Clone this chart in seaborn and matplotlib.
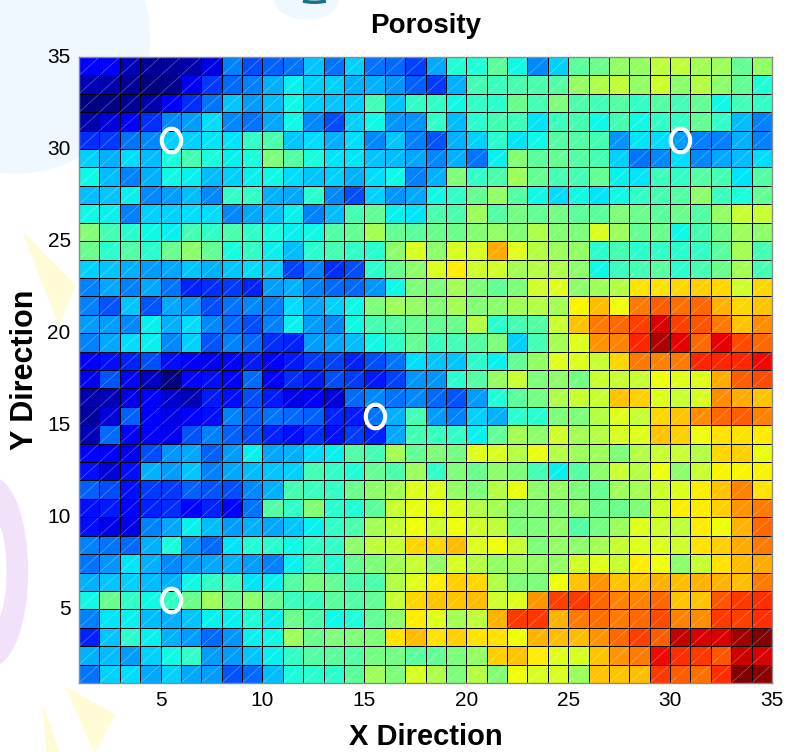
import numpy as np
import pandas as pd
import matplotlib.pyplot as plt
import seaborn as sns
from matplotlib.patches import Ellipse, Polygon, Arc
from matplotlib.path import Path
from matplotlib.transforms import Affine2D

# porosity map, read off the picture on the jet scale (0 = dark blue, 100 = dark red)
# first row is the top of the map (y = 34), last row is y = 1; columns x = 1..34
porosity_rows = [
    [11, 12, 5, 2, 3, 4, 9, 25, 20, 22, 24, 32, 24, 33, 24, 23, 19, 29, 39, 39, 46, 37, 26, 33, 46, 48, 53, 53, 58, 58, 55, 54, 47, 53],
    [5, 4, 2, 0, 1, 10, 18, 23, 25, 30, 36, 33, 33, 30, 30, 27, 22, 18, 30, 43, 42, 44, 44, 45, 53, 56, 58, 53, 60, 52, 57, 52, 47, 39],
    [0, 1, 2, 4, 12, 17, 24, 32, 28, 31, 37, 33, 32, 33, 43, 32, 41, 41, 37, 41, 40, 48, 43, 50, 44, 43, 45, 41, 45, 43, 47, 37, 43, 41],
    [4, 8, 12, 17, 26, 28, 34, 26, 24, 29, 37, 26, 20, 33, 37, 27, 27, 41, 31, 40, 43, 42, 35, 42, 43, 37, 43, 37, 41, 41, 47, 41, 31, 25],
    [17, 18, 24, 26, 33, 33, 35, 35, 41, 44, 32, 34, 30, 34, 26, 32, 25, 21, 30, 33, 40, 35, 37, 45, 45, 43, 27, 35, 34, 28, 25, 25, 30, 25],
    [33, 30, 34, 31, 38, 43, 38, 36, 38, 50, 45, 38, 35, 35, 32, 31, 29, 26, 30, 24, 36, 51, 46, 47, 45, 43, 33, 24, 26, 34, 26, 29, 31, 34],
    [37, 31, 25, 30, 37, 36, 31, 33, 36, 37, 34, 32, 33, 30, 34, 37, 25, 30, 50, 41, 44, 54, 47, 43, 43, 47, 36, 35, 42, 41, 45, 43, 35, 45],
    [31, 32, 36, 26, 28, 31, 26, 41, 41, 30, 29, 40, 26, 20, 33, 27, 29, 37, 41, 47, 53, 45, 37, 34, 37, 35, 37, 41, 43, 45, 52, 42, 38, 47],
    [37, 36, 25, 33, 33, 34, 34, 26, 29, 32, 36, 25, 31, 43, 47, 36, 35, 44, 44, 54, 45, 49, 47, 49, 46, 46, 50, 48, 46, 48, 45, 53, 59, 59],
    [51, 43, 40, 37, 36, 43, 41, 44, 41, 38, 36, 37, 45, 47, 55, 47, 46, 48, 48, 51, 53, 51, 56, 51, 50, 61, 54, 47, 48, 37, 43, 48, 54, 52],
    [48, 40, 45, 40, 48, 52, 47, 38, 41, 36, 31, 40, 43, 41, 40, 52, 61, 52, 61, 61, 73, 62, 57, 54, 53, 40, 43, 40, 41, 40, 41, 46, 55, 43],
    [33, 32, 30, 28, 29, 32, 30, 32, 34, 33, 19, 25, 17, 20, 40, 48, 52, 61, 66, 60, 60, 55, 57, 56, 52, 37, 42, 43, 46, 40, 43, 48, 55, 43],
    [25, 29, 25, 29, 24, 16, 17, 18, 16, 28, 30, 25, 23, 23, 27, 37, 50, 50, 55, 50, 47, 50, 60, 62, 52, 54, 57, 67, 67, 68, 69, 68, 60, 68],
    [25, 21, 32, 21, 29, 27, 20, 24, 26, 25, 34, 29, 33, 37, 50, 54, 53, 51, 55, 51, 52, 55, 57, 55, 65, 71, 64, 78, 81, 79, 80, 72, 68, 70],
    [28, 28, 26, 36, 30, 34, 26, 23, 20, 25, 36, 28, 26, 37, 43, 45, 47, 47, 48, 57, 40, 43, 45, 59, 70, 78, 80, 84, 92, 84, 82, 78, 70, 76],
    [25, 29, 34, 36, 26, 33, 21, 25, 23, 17, 16, 28, 29, 31, 37, 41, 47, 42, 43, 45, 50, 33, 43, 55, 62, 75, 77, 87, 96, 91, 80, 91, 83, 80],
    [12, 14, 16, 20, 14, 11, 10, 13, 15, 11, 15, 18, 19, 16, 20, 24, 34, 32, 32, 40, 36, 47, 53, 62, 62, 59, 68, 78, 77, 78, 87, 87, 87, 90],
    [10, 21, 13, 6, 0, 13, 14, 13, 23, 12, 17, 15, 20, 18, 15, 19, 27, 27, 40, 45, 53, 59, 50, 52, 49, 59, 59, 59, 64, 62, 62, 73, 81, 83],
    [4, 5, 9, 11, 7, 5, 15, 14, 20, 15, 9, 12, 8, 23, 26, 24, 26, 23, 21, 28, 39, 46, 49, 56, 59, 59, 70, 69, 62, 59, 61, 76, 73, 70],
    [3, 8, 22, 12, 9, 11, 14, 25, 22, 24, 23, 22, 16, 15, 24, 30, 43, 28, 25, 33, 30, 40, 40, 50, 50, 57, 62, 59, 68, 70, 76, 80, 81, 77],
    [5, 23, 12, 12, 10, 21, 25, 22, 20, 16, 14, 17, 14, 18, 16, 29, 43, 42, 41, 36, 47, 55, 52, 60, 55, 57, 61, 62, 70, 69, 64, 67, 67, 66],
    [11, 12, 10, 20, 27, 29, 22, 28, 36, 29, 30, 34, 36, 45, 43, 55, 47, 50, 49, 62, 61, 57, 63, 57, 54, 54, 50, 57, 59, 59, 57, 68, 69, 63],
    [14, 8, 14, 30, 28, 32, 25, 29, 31, 32, 33, 43, 41, 39, 47, 44, 54, 41, 50, 48, 52, 50, 43, 36, 45, 52, 59, 57, 64, 52, 59, 65, 65, 65],
    [22, 20, 14, 18, 18, 22, 21, 20, 26, 30, 43, 42, 41, 48, 52, 55, 62, 62, 53, 50, 57, 63, 52, 53, 50, 47, 54, 55, 60, 62, 66, 70, 77, 67],
    [14, 15, 11, 16, 17, 13, 16, 11, 24, 45, 41, 51, 40, 39, 46, 59, 63, 63, 62, 57, 55, 51, 51, 51, 52, 48, 48, 50, 60, 66, 66, 69, 75, 78],
    [14, 9, 9, 25, 29, 36, 31, 28, 30, 29, 32, 36, 41, 44, 55, 59, 64, 60, 64, 60, 58, 50, 50, 52, 45, 49, 54, 62, 60, 58, 66, 64, 72, 80],
    [25, 24, 23, 30, 38, 27, 23, 35, 39, 40, 37, 41, 41, 52, 58, 59, 68, 68, 71, 62, 64, 59, 50, 53, 52, 55, 59, 62, 62, 60, 67, 69, 73, 78],
    [24, 27, 35, 30, 26, 28, 29, 30, 28, 25, 36, 42, 39, 47, 50, 55, 59, 53, 61, 57, 53, 54, 53, 53, 60, 62, 59, 66, 64, 52, 59, 67, 71, 73],
    [30, 32, 33, 31, 30, 37, 41, 42, 35, 36, 45, 49, 47, 44, 44, 57, 62, 66, 69, 68, 57, 50, 50, 64, 70, 75, 70, 70, 72, 71, 72, 72, 71, 78],
    [37, 48, 41, 37, 41, 48, 54, 48, 52, 47, 42, 42, 46, 45, 47, 59, 68, 70, 70, 71, 60, 62, 75, 84, 85, 80, 77, 77, 80, 70, 70, 82, 85, 86],
    [25, 35, 36, 31, 30, 32, 36, 36, 39, 36, 48, 44, 37, 39, 47, 52, 66, 62, 55, 58, 72, 85, 85, 72, 78, 79, 78, 80, 83, 77, 76, 85, 84, 86],
    [16, 32, 40, 36, 30, 28, 23, 27, 36, 37, 54, 48, 50, 50, 50, 67, 71, 67, 69, 67, 67, 64, 72, 71, 71, 75, 80, 84, 81, 94, 92, 92, 97, 100],
    [30, 31, 28, 33, 37, 41, 28, 28, 32, 36, 41, 45, 46, 45, 49, 49, 46, 47, 50, 53, 69, 70, 66, 62, 61, 70, 75, 78, 90, 86, 85, 82, 93, 92],
    [24, 33, 34, 29, 33, 29, 28, 21, 23, 31, 38, 40, 40, 46, 54, 50, 61, 56, 50, 57, 51, 64, 61, 61, 54, 70, 70, 71, 85, 81, 79, 86, 100, 99],
]

x_ticks = [5, 10, 15, 20, 25, 30, 35]
y_ticks = [5, 10, 15, 20, 25, 30, 35]

# well locations (cell centres)
well_x = [5.5, 30.5, 15.5, 5.5]
well_y = [30.5, 30.5, 15.5, 5.5]

plt.rcParams['font.family'] = ['Liberation Sans', 'DejaVu Sans']

# bottom row first so that row index 0 is y = 1
grid = pd.DataFrame(porosity_rows[::-1], index=range(1, 35), columns=range(1, 35))
n = grid.shape[0]

fig = plt.figure(figsize=(7.86, 7.52), dpi=100)

# faint slide-background shapes behind the chart
bg = [
    Ellipse((0.02, 0.95), 0.34, 0.36, color='#eff8fe'),
    Ellipse((0.39, 1.0), 0.08, 0.05, color='#eff8fe'),
    Ellipse((-0.01, 0.24), 0.09, 0.25, color='#f1e2fa'),
    Ellipse((-0.01, 0.24), 0.035, 0.14, color='white'),
    Polygon([[0.03, 0.69], [0.095, 0.62], [0.075, 0.57]], closed=True, color='#fffbd6'),
    Polygon([[0.085, 0.085], [0.145, 0.05], [0.12, 0.0]], closed=True, color='#fffbd6'),
    Polygon([[0.055, 0.06], [0.075, 0.0], [0.06, 0.0]], closed=True, color='#fffbd6'),
]
for p in bg:
    p.set_transform(fig.transFigure)
    p.set_zorder(-5)
    fig.patches.append(p)
hook = Arc((0.40, 1.004), 0.045, 0.014, theta1=200, theta2=340, lw=2.5, color='#1d6f8c',
           transform=fig.transFigure)
fig.patches.append(hook)

ax = fig.add_axes([0.1005, 0.0918, 0.8817, 0.8324])
sns.heatmap(grid, ax=ax, cmap='jet', vmin=0, vmax=100, cbar=False,
            linewidths=0.7, linecolor='black')

# the faint "/" split of every cell
for k in range(-n + 1, n):
    ax.plot([0, n], [k, k + n], color='white', alpha=0.35, lw=0.5)

# hollow white well markers
ellipse_marker = Path.unit_circle().transformed(Affine2D().scale(0.82, 1.0))
ax.plot(np.array(well_x) - 1, np.array(well_y) - 1, linestyle='none',
        marker=ellipse_marker, markersize=17, mfc='none', mec='white', mew=3)

ax.set_xlim(0, n)
ax.set_ylim(0, n)
ax.set_xticks([t - 1 for t in x_ticks])
ax.set_xticklabels(x_ticks, rotation=0)
ax.set_yticks([t - 1 for t in y_ticks])
ax.set_yticklabels(y_ticks, rotation=0)
ax.tick_params(length=0, labelsize=15, pad=6)

for s in ax.spines.values():
    s.set_visible(True)
    s.set_color('#8a8a8a')
    s.set_linewidth(1)

ax.set_title('Porosity', fontsize=20, fontweight='bold', pad=17)
ax.set_xlabel('X Direction', fontsize=21, fontweight='bold')
ax.set_ylabel('Y Direction', fontsize=22, fontweight='bold')
ax.xaxis.set_label_coords(0.5, -0.064)
ax.yaxis.set_label_coords(-0.056, 0.5)

fig.savefig('out.png', dpi=100)
